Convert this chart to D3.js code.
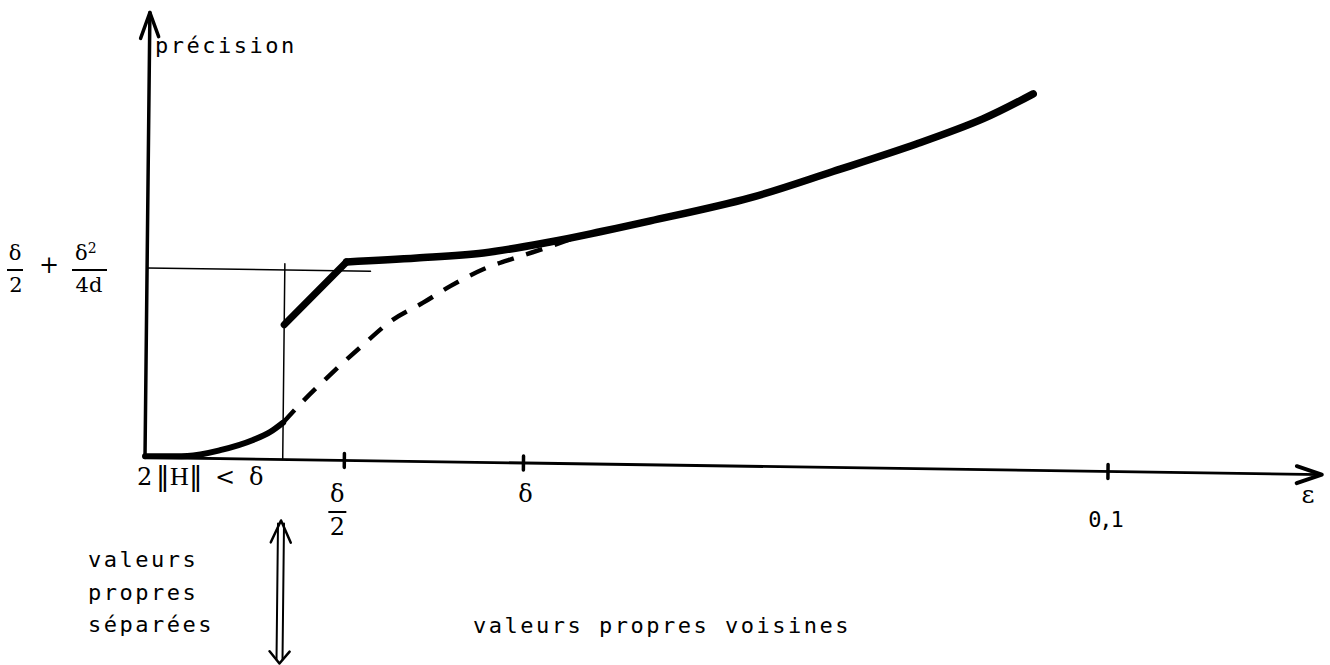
<!DOCTYPE html>
<html>
<head>
<meta charset="utf-8">
<script src="https://cdn.jsdelivr.net/npm/d3@7"></script>
<style>
  body { margin: 0; background: #fff; }
  svg { display: block; }
</style>
</head>
<body>
<div id="chart"></div>
<script>
// values (eps on the x axis, precision in arbitrary units 0..1)
const xTickValues = [0.0207, 0.0393, 0.1];
const xTickLabels = ["δ/2", "δ", "0,1"];
const epsMax = 0.1222;
const levelValue = 0.426;        // δ/2 + δ²/4d
const levelEnd = 0.0232;
const separationEps = 0.0143;    // 2||H|| < δ limit

const lowerEps  = [0, 0.0044, 0.0078, 0.0112, 0.0130, 0.0143];
const lowerPrec = [0.003, 0.005, 0.019, 0.043, 0.062, 0.083];

const jumpEps  = [0.0143, 0.0207];
const jumpPrec = [0.303, 0.446];

const upperEps  = [0.0207, 0.0280, 0.0349, 0.0418, 0.0470, 0.0522, 0.0625, 0.0711, 0.0798, 0.0866, 0.0918];
const upperPrec = [0.446, 0.457, 0.4705, 0.4975, 0.522, 0.548, 0.603, 0.665, 0.730, 0.788, 0.846];

const dashedEps  = [0.0143, 0.0160, 0.0188, 0.0222, 0.0256, 0.0287, 0.0315, 0.0349, 0.0384, 0.0418, 0.0445];
const dashedPrec = [0.083, 0.124, 0.185, 0.254, 0.318, 0.357, 0.395, 0.434, 0.462, 0.487, 0.509];

const W = 1330, H = 665;
const mono = "'DejaVu Sans Mono', 'Liberation Mono', monospace";
const serif = "'DejaVu Serif', 'Liberation Serif', serif";

const svg = d3.select("#chart").append("svg")
  .attr("width", W).attr("height", H)
  .style("background", "#fff");

const x = d3.scaleLinear().domain([0, 0.1]).range([145, 1108]);
const y = d3.scaleLinear().domain([0, 1]).range([457.5, 12.5]);
const ox = x(0), oy = y(0);

// the scan is slightly skewed, so the drawing gets a small shear
const plot = svg.append("g")
  .attr("transform", `translate(${ox},${oy}) matrix(1,0.0145,-0.011,1,0,0) translate(${-ox},${-oy})`)
  .attr("stroke", "#000")
  .attr("fill", "none")
  .attr("stroke-linecap", "round")
  .attr("stroke-linejoin", "round");

// axes
plot.append("line")
  .attr("x1", ox).attr("y1", oy).attr("x2", ox).attr("y2", y(1))
  .attr("stroke-width", 3.5);
plot.append("path")
  .attr("d", `M${ox - 9},${y(1) + 26}L${ox},${y(1)}L${ox + 9},${y(1) + 24}`)
  .attr("stroke-width", 3.5);

const xe = x(epsMax);
plot.append("line")
  .attr("x1", ox).attr("y1", oy).attr("x2", xe).attr("y2", oy)
  .attr("stroke-width", 2.8);
plot.append("path")
  .attr("d", `M${xe - 25},${oy - 8}L${xe},${oy}L${xe - 25},${oy + 9}`)
  .attr("stroke-width", 4);

plot.selectAll(".tick")
  .data(xTickValues)
  .enter().append("line")
    .attr("class", "tick")
    .attr("x1", d => x(d)).attr("x2", d => x(d))
    .attr("y1", oy - 7).attr("y2", oy + 7)
    .attr("stroke-width", 3.5);

// thin guide lines
plot.append("line")
  .attr("x1", x(0)).attr("x2", x(levelEnd))
  .attr("y1", y(levelValue)).attr("y2", y(levelValue))
  .attr("stroke-width", 1.5);
plot.append("line")
  .attr("x1", x(separationEps)).attr("x2", x(separationEps))
  .attr("y1", y(0)).attr("y2", y(0.44))
  .attr("stroke-width", 1.5);

// curves
const line = d3.line()
  .x(d => x(d[0]))
  .y(d => y(d[1]))
  .curve(d3.curveMonotoneX);

plot.append("path")
  .attr("d", line(d3.zip(lowerEps, lowerPrec)))
  .attr("stroke-width", 6);
plot.append("path")
  .attr("d", d3.line().x(d => x(d[0])).y(d => y(d[1]))(d3.zip(jumpEps, jumpPrec)))
  .attr("stroke-width", 7);
plot.append("path")
  .attr("d", line.curve(d3.curveCatmullRom.alpha(0.5))(d3.zip(upperEps, upperPrec)))
  .attr("stroke-width", 7.5);
plot.append("path")
  .attr("d", line.curve(d3.curveMonotoneX)(d3.zip(dashedEps, dashedPrec)))
  .attr("stroke-width", 4.5)
  .attr("stroke-linecap", "butt")
  .attr("stroke-dasharray", "17 13");

// double arrow under the separation
const xs = x(separationEps) - 1;
plot.append("line")
  .attr("x1", xs - 3).attr("x2", xs - 3).attr("y1", oy + 64).attr("y2", oy + 200)
  .attr("stroke-width", 2);
plot.append("line")
  .attr("x1", xs + 3).attr("x2", xs + 3).attr("y1", oy + 64).attr("y2", oy + 200)
  .attr("stroke-width", 2);
plot.append("path")
  .attr("d", `M${xs - 10},${oy + 83}L${xs},${oy + 61}L${xs + 10},${oy + 83}`)
  .attr("stroke-width", 2.5);
plot.append("path")
  .attr("d", `M${xs - 10},${oy + 192}L${xs},${oy + 204}L${xs + 10},${oy + 192}`)
  .attr("stroke-width", 2.5);

// texts
const txt = svg.append("g").attr("fill", "#000");

txt.append("text")
  .attr("x", 155).attr("y", 53)
  .style("font-family", mono).style("font-size", "22px").style("letter-spacing", "2.5px")
  .text("précision");

// left label δ/2 + δ²/4d
const lf = txt.append("g").style("font-family", serif).style("font-size", "21px");
lf.append("text").attr("x", 15).attr("y", 260).attr("text-anchor", "middle").text("δ");
lf.append("line").attr("x1", 7).attr("x2", 23).attr("y1", 270).attr("y2", 270)
  .attr("stroke", "#000").attr("stroke-width", 2);
lf.append("text").attr("x", 16).attr("y", 292).attr("text-anchor", "middle").text("2");
lf.append("text").attr("x", 49).attr("y", 273).attr("text-anchor", "middle").style("font-size", "24px").text("+");
const num = lf.append("text").attr("x", 75).attr("y", 260);
num.append("tspan").text("δ");
num.append("tspan").attr("dy", -7).style("font-size", "14px").text("2");
lf.append("line").attr("x1", 72).attr("x2", 107).attr("y1", 270).attr("y2", 270)
  .attr("stroke", "#000").attr("stroke-width", 2);
lf.append("text").attr("x", 89).attr("y", 292).attr("text-anchor", "middle").text("4d");

// x tick labels
const tl = txt.append("g").style("font-family", serif).style("font-size", "24px");
const half = x(xTickValues[0]) - 7;
tl.append("text").attr("x", half).attr("y", 502).attr("text-anchor", "middle").text(xTickLabels[0].split("/")[0]);
tl.append("line").attr("x1", half - 9).attr("x2", half + 9).attr("y1", 512).attr("y2", 512)
  .attr("stroke", "#000").attr("stroke-width", 2);
tl.append("text").attr("x", half).attr("y", 535).attr("text-anchor", "middle").text(xTickLabels[0].split("/")[1]);
tl.append("text").attr("x", x(xTickValues[1]) + 2).attr("y", 502).attr("text-anchor", "middle").text(xTickLabels[1]);
txt.append("text")
  .attr("x", x(xTickValues[2]) - 3).attr("y", 527).attr("text-anchor", "middle")
  .style("font-family", mono).style("font-size", "22px").style("letter-spacing", "-2px")
  .text(xTickLabels[2]);
txt.append("text")
  .attr("x", 1308).attr("y", 503).attr("text-anchor", "middle")
  .style("font-family", serif).style("font-size", "25px")
  .text("ε");

// 2||H|| < δ
const nh = txt.append("text").attr("y", 485).style("font-family", serif).style("font-size", "24px");
nh.append("tspan").attr("x", 137).text("2");
nh.append("tspan").attr("x", 156).style("font-family", "'DejaVu Sans', sans-serif").style("font-size", "27px").text("‖");
nh.append("tspan").attr("x", 170).style("font-family", "'Liberation Serif', serif").style("font-size", "26px").text("H");
nh.append("tspan").attr("x", 189).style("font-family", "'DejaVu Sans', sans-serif").style("font-size", "27px").text("‖");
nh.append("tspan").attr("x", 215).text("<");
nh.append("tspan").attr("x", 249).text("δ");

// region texts
const rt = txt.append("g").style("font-family", mono).style("font-size", "22px").style("letter-spacing", "2.5px");
rt.append("text").attr("x", 88).attr("y", 567).text("valeurs");
rt.append("text").attr("x", 88).attr("y", 600).text("propres");
rt.append("text").attr("x", 88).attr("y", 632).text("séparées");
rt.append("text").attr("x", 473).attr("y", 633).text("valeurs propres voisines");
</script>
</body>
</html>
